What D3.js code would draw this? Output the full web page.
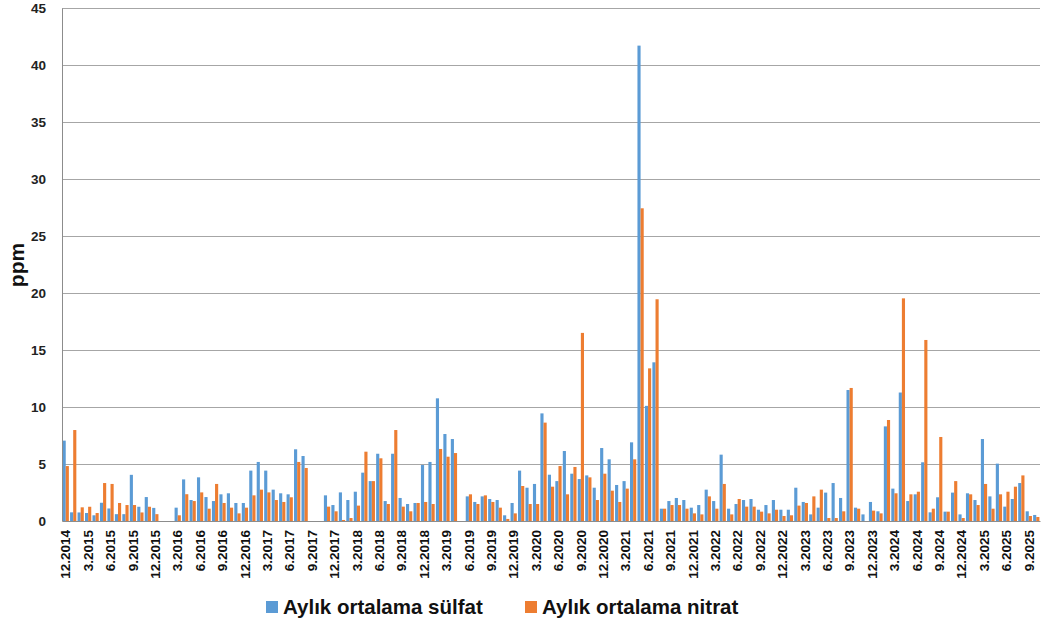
<!DOCTYPE html>
<html><head><meta charset="utf-8">
<script src="https://cdnjs.cloudflare.com/ajax/libs/d3/7.8.5/d3.min.js"></script>
<style>body{margin:0;background:#fff}svg{display:block}</style>
</head><body>
<svg id="c" width="1042" height="628"></svg>
<script>
// months from 12.2014 to 10.2025
const months = [];
for (let y = 2014, m = 12; y < 2025 || (y === 2025 && m <= 10); ) {
  months.push(m + "." + y);
  m++; if (m > 12) { m = 1; y++; }
}
const sulfat = [
  7.05, 0.76, 0.75, 0.7, 0.5, 1.6, 1.1, 0.6, 0.6, 4.05, 1.25, 2.1, 1.15,
  null, null, 1.17, 3.65, 1.84, 3.83, 2.1, 1.75, 2.34, 2.43, 1.58, 1.58,
  4.42, 5.18, 4.42, 2.75, 2.43, 2.34, 6.29, 5.7, null, null, 2.25, 1.4,
  2.51, 1.84, 2.57, 4.24, 3.5, 5.9, 1.75, 5.9, 2.02, 1.49, 1.58, 4.91,
  5.18, 10.76, 7.63, 7.19, null, 2.16, 1.67, 2.16, 1.93, 1.84, 0.5, 1.58,
  4.42, 2.92, 3.25, 9.44, 4.06, 3.5, 6.14, 4.15, 3.68, 4.0, 2.92, 6.4,
  5.41, 3.16, 3.5, 6.9, 41.7, 10.1, 13.92, 1.08, 1.75, 2.02, 1.84, 1.17,
  1.4, 2.75, 1.75, 5.82, 1.08, 1.49, 1.84, 1.93, 0.99, 1.4, 1.84, 0.99,
  0.99, 2.92, 1.67, 0.58, 1.17, 2.49, 3.33, 2.02, 11.49, 1.17, 0.58, 1.67,
  0.85, 8.3, 2.84, 11.27, 1.75, 2.34, 5.15, 0.76, 2.08, 0.82, 2.49, 0.58,
  2.43, 1.84, 7.19, 2.16, 5.03, 1.26, 1.93, 3.33, 0.85, 0.53
];
const nitrat = [
  4.82, 7.98, 1.2, 1.25, 0.7, 3.33, 3.25, 1.58, 1.4, 1.4, 0.75, 1.25, 0.6,
  null, null, 0.5, 2.35, 1.75, 2.51, 1.08, 3.25, 1.58, 1.17, 0.67, 1.17,
  2.25, 2.75, 2.51, 1.84, 1.67, 2.08, 5.18, 4.65, null, null, 1.26, 0.85,
  0.09, 0.26, 1.35, 6.08, 3.5, 5.5, 1.49, 7.98, 1.26, 0.85, 1.58, 1.67,
  1.49, 6.32, 5.64, 5.96, null, 2.34, 1.49, 2.25, 1.67, 1.17, 0.18, 0.67,
  3.07, 1.49, 1.49, 8.63, 3.01, 4.82, 2.34, 4.74, 16.5, 3.83, 1.84, 4.15,
  2.66, 1.67, 2.84, 5.41, 27.43, 13.39, 19.45, 1.08, 1.4, 1.4, 1.08, 0.67,
  0.58, 2.16, 1.08, 3.25, 0.58, 1.93, 1.26, 1.26, 0.82, 0.67, 0.99, 0.44,
  0.5, 1.35, 1.58, 2.16, 2.75, 0.26, 0.26, 0.85, 11.67, 1.08, null, 0.91,
  0.67, 8.86, 2.43, 19.53, 2.34, 2.57, 15.88, 1.08, 7.37, 0.82, 3.5, 0.26,
  2.34, 1.4, 3.25, 1.08, 2.34, 2.57, 3.01, 4.0, 0.44, 0.35
];
const seriesNames = ["Aylık ortalama sülfat", "Aylık ortalama nitrat"];
const colors = ["#5B9BD5", "#ED7D31"];
const yTicks = [0, 5, 10, 15, 20, 25, 30, 35, 40, 45];
const yTitle = "ppm";

const svg = d3.select("#c");
const m = {l: 62, r: 2, t: 8, b: 107};
const W = 1042, H = 628;
const x = d3.scaleBand().domain(months).range([m.l, W - m.r]).paddingInner(0.16).paddingOuter(0.08);
const x1 = d3.scaleBand().domain([0, 1]).range([0, x.bandwidth()]);
const y = d3.scaleLinear().domain([0, 45]).range([H - m.b, m.t]);

// grid
svg.append("g").selectAll("line").data(yTicks.filter(d => d > 0)).join("line")
  .attr("x1", m.l).attr("x2", W - m.r)
  .attr("y1", d => Math.round(y(d)) + 0.5).attr("y2", d => Math.round(y(d)) + 0.5)
  .attr("stroke", "#a6a6a6").attr("stroke-width", 1);

// bars
const data = [sulfat, nitrat];
data.forEach((arr, si) => {
  svg.append("g").selectAll("rect")
    .data(months.map((mo, i) => ({mo, v: arr[i]})).filter(d => d.v != null))
    .join("rect")
    .attr("x", d => x(d.mo) + x1(si))
    .attr("width", x1.bandwidth())
    .attr("y", d => y(d.v))
    .attr("height", d => y(0) - y(d.v))
    .attr("fill", colors[si]);
});

// axes
const yAxis = d3.axisLeft(y).tickValues(yTicks).tickSize(0).tickPadding(16);
const gy = svg.append("g").attr("transform", `translate(${m.l},0)`).call(yAxis);
gy.select(".domain").attr("stroke", "#8c8c8c");
gy.selectAll("text").attr("font-family", "Liberation Sans, Arial, sans-serif")
  .attr("font-weight", "bold").attr("font-size", 13.5).attr("fill", "#222");

const xAxis = d3.axisBottom(x).tickValues(months.filter((d, i) => i % 3 === 0)).tickSize(0).tickPadding(0);
const gx = svg.append("g").attr("transform", `translate(0,${y(0)})`).call(xAxis);
gx.select(".domain").attr("stroke", "#8c8c8c");
gx.selectAll("text")
  .attr("font-family", "Liberation Sans, Arial, sans-serif")
  .attr("font-weight", "bold").attr("font-size", 13.5).attr("fill", "#111")
  .attr("text-anchor", "end")
  .attr("transform", "translate(0,9) rotate(-90)")
  .attr("x", 0).attr("y", 0).attr("dy", "0.35em");

// y title
svg.append("text").attr("transform", "translate(24,265) rotate(-90)")
  .attr("text-anchor", "middle").attr("font-family", "Liberation Sans, Arial, sans-serif")
  .attr("font-weight", "bold").attr("font-size", 21).attr("fill", "#111").text(yTitle);

// legend
const legX = [266, 525];
seriesNames.forEach((n, i) => {
  const g = svg.append("g").attr("transform", `translate(${legX[i]},607)`);
  g.append("rect").attr("x", 0).attr("y", -6).attr("width", 12).attr("height", 12).attr("fill", colors[i]);
  g.append("text").attr("x", 17).attr("y", 0).attr("dy", "0.35em")
    .attr("font-family", "Liberation Sans, Arial, sans-serif").attr("font-weight", "bold")
    .attr("font-size", 20.5).attr("fill", "#111").text(n);
});
</script>
</body></html>
